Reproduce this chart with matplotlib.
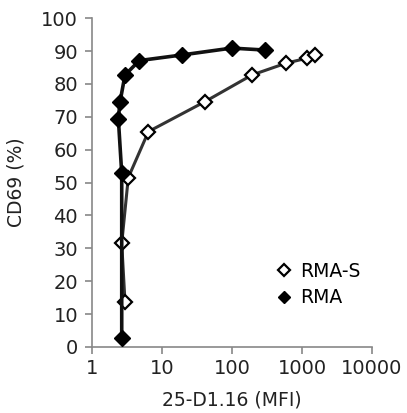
import numpy as np
import matplotlib
matplotlib.use("Agg")
import matplotlib.pyplot as plt

# values
rma_s_x = [2.96, 2.66, 3.3, 6.4, 41, 192, 590, 1166, 1535]
rma_s_y = [13.8, 31.5, 51.5, 65.5, 74.6, 82.7, 86.3, 87.8, 88.8]
rma_x = [2.66, 2.66, 2.38, 2.51, 2.96, 4.74, 19.1, 99, 297]
rma_y = [2.6, 52.8, 69.4, 74.4, 82.7, 87.1, 88.8, 90.9, 90.3]

x_ticks = [1, 10, 100, 1000, 10000]
x_tick_labels = ["1", "10", "100", "1000", "10000"]
y_ticks = list(range(0, 101, 10))

plt.rcParams['font.family'] = ['DejaVu Sans']

fig = plt.figure(figsize=(4.07, 4.13), dpi=100)
ax = fig.add_axes([0.226, 0.160, 0.688, 0.796])

ax.plot(rma_s_x, rma_s_y, color='#333333', lw=2.2, marker='D', ms=7.5,
        mfc='white', mec='black', mew=1.6, label='RMA-S', zorder=3)
ax.plot(rma_x, rma_y, color='#111111', lw=2.6, marker='D', ms=8,
        mfc='black', mec='black', label='RMA', zorder=4)

ax.set_xscale('log')
ax.set_xlim(1, 10000)
ax.set_ylim(0, 100)
ax.set_xticks(x_ticks)
ax.set_xticklabels(x_tick_labels)
ax.xaxis.set_minor_locator(matplotlib.ticker.NullLocator())
ax.set_yticks(y_ticks)

for s in ['top', 'right']:
    ax.spines[s].set_visible(False)
for s in ['left', 'bottom']:
    ax.spines[s].set_color('#888888')
    ax.spines[s].set_linewidth(1.2)
ax.tick_params(axis='both', colors='#888888', labelcolor='#222222',
               labelsize=14, length=5, width=1.2)
ax.tick_params(axis='y', pad=5)
ax.tick_params(axis='x', pad=4)

ax.set_xlabel('25-D1.16 (MFI)', fontsize=13.5, color='#222222', labelpad=9)
ax.set_ylabel('CD69 (%)', fontsize=13.5, color='#222222', labelpad=11)

leg = ax.legend(loc='center left', bbox_to_anchor=(0.60, 0.19), frameon=False,
                fontsize=13.5, handlelength=0.8, handletextpad=0.45,
                labelspacing=0.4, markerscale=0.75)
for h in leg.legend_handles:
    h.set_linestyle('none')

fig.savefig('out.png', dpi=100)
